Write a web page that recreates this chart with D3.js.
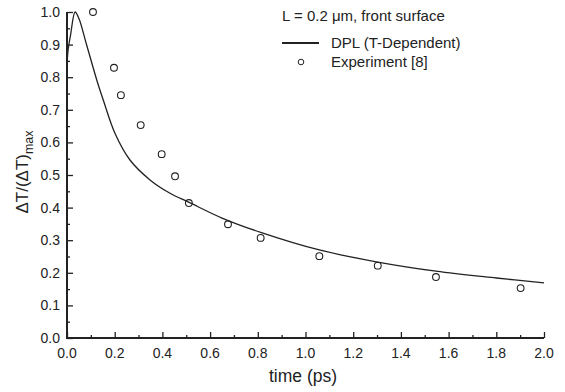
<!DOCTYPE html>
<html>
<head>
<meta charset="utf-8">
<script src="https://cdn.jsdelivr.net/npm/d3@7"></script>
<style>
  html, body { margin: 0; padding: 0; background: #fff; }
  svg { display: block; font-family: "Liberation Sans", Arial, sans-serif; }
</style>
</head>
<body>
<svg id="chart" width="565" height="392"></svg>
<script>
/* DPL model vs experiment, front surface */

// model curve
const curveT = [0, 0.004, 0.015, 0.034, 0.05, 0.08, 0.127, 0.152, 0.201, 0.264, 0.348, 0.432, 0.512, 0.65, 0.812, 1.058, 1.303, 1.547, 1.8, 2.0];
const curveY = [0.83, 0.88, 0.93, 1.0, 0.98, 0.905, 0.786, 0.730, 0.628, 0.546, 0.485, 0.444, 0.416, 0.368, 0.324, 0.27, 0.233, 0.205, 0.184, 0.169];

// experiment points
const expT = [0.109, 0.197, 0.226, 0.309, 0.397, 0.453, 0.511, 0.675, 0.812, 1.058, 1.303, 1.547, 1.902];
const expY = [1.0, 0.829, 0.745, 0.653, 0.564, 0.496, 0.414, 0.349, 0.307, 0.251, 0.222, 0.187, 0.153];

const xTicks = [0, 0.2, 0.4, 0.6, 0.8, 1.0, 1.2, 1.4, 1.6, 1.8, 2.0];
const yTicks = [0, 0.1, 0.2, 0.3, 0.4, 0.5, 0.6, 0.7, 0.8, 0.9, 1.0];

const ink = '#222';
const svg = d3.select('#chart');
const x = d3.scaleLinear().domain([0, 2]).range([67, 544]);
const y = d3.scaleLinear().domain([0, 1]).range([338, 12]);

// axes: ticks point inward, minor ticks between
const xAxis = d3.axisTop(x).tickValues(xTicks).tickSize(6).tickFormat('');
const xMinor = d3.axisTop(x).tickValues(d3.range(0.1, 2, 0.2)).tickSize(3).tickFormat('');
const yAxis = d3.axisRight(y).tickValues(yTicks).tickSize(6).tickFormat('');
const yMinor = d3.axisRight(y).tickValues(d3.range(0.05, 1, 0.1)).tickSize(3).tickFormat('');

function styleAxis(g) {
  g.select('.domain').remove();
  g.selectAll('line').attr('stroke', ink).attr('stroke-width', 1.3);
}
svg.append('g').attr('transform', `translate(0,${y(0)})`).call(xAxis).call(styleAxis);
svg.append('g').attr('transform', `translate(0,${y(0)})`).call(xMinor).call(styleAxis);
svg.append('g').attr('transform', `translate(${x(0)},0)`).call(yAxis).call(styleAxis);
svg.append('g').attr('transform', `translate(${x(0)},0)`).call(yMinor).call(styleAxis);

// axis lines
svg.append('line').attr('x1', x(0)).attr('x2', x(2)).attr('y1', y(0)).attr('y2', y(0))
  .attr('stroke', ink).attr('stroke-width', 2);
svg.append('line').attr('x1', x(0)).attr('x2', x(0)).attr('y1', y(0) + 1).attr('y2', y(1))
  .attr('stroke', ink).attr('stroke-width', 2);

// tick labels
svg.append('g').selectAll('text').data(xTicks).join('text')
  .attr('x', d => x(d)).attr('y', y(0) + 20).attr('text-anchor', 'middle')
  .attr('font-size', 14).attr('fill', ink).text(d => d.toFixed(1));
svg.append('g').selectAll('text').data(yTicks).join('text')
  .attr('x', x(0) - 7).attr('y', d => y(d) + 5).attr('text-anchor', 'end')
  .attr('font-size', 14).attr('fill', ink).text(d => d.toFixed(1));

// titles
svg.append('text').attr('x', 303).attr('y', 382).attr('text-anchor', 'middle')
  .attr('font-size', 17.5).attr('fill', ink).text('time (ps)');
const yt = svg.append('text').attr('transform', 'translate(28,172) rotate(-90)')
  .attr('text-anchor', 'middle').attr('font-size', 17).attr('fill', ink);
yt.append('tspan').text('ΔT/(ΔT)');
yt.append('tspan').attr('dy', 5).attr('font-size', 12.5).text('max');

// model curve
const pts = curveT.map((t, i) => [t, curveY[i]]);
svg.append('path')
  .attr('d', d3.line().x(p => x(p[0])).y(p => y(p[1])).curve(d3.curveCatmullRom.alpha(0.5))(pts))
  .attr('fill', 'none').attr('stroke', ink).attr('stroke-width', 1.3);

// experiment markers
svg.append('g').selectAll('circle').data(expT.map((t, i) => [t, expY[i]])).join('circle')
  .attr('cx', p => x(p[0])).attr('cy', p => y(p[1])).attr('r', 3.4)
  .attr('fill', 'none').attr('stroke', ink).attr('stroke-width', 1.1);

// legend
svg.append('text').attr('x', 282).attr('y', 21).attr('font-size', 15).attr('fill', ink)
  .text('L = 0.2 μm, front surface');
svg.append('line').attr('x1', 282).attr('x2', 319).attr('y1', 43).attr('y2', 43)
  .attr('stroke', ink).attr('stroke-width', 2);
svg.append('text').attr('x', 331).attr('y', 48).attr('font-size', 15).attr('fill', ink)
  .text('DPL (T-Dependent)');
svg.append('circle').attr('cx', 301).attr('cy', 62).attr('r', 2.8)
  .attr('fill', 'none').attr('stroke', ink).attr('stroke-width', 1);
svg.append('text').attr('x', 331).attr('y', 67).attr('font-size', 15).attr('fill', ink)
  .text('Experiment [8]');
</script>
</body>
</html>
